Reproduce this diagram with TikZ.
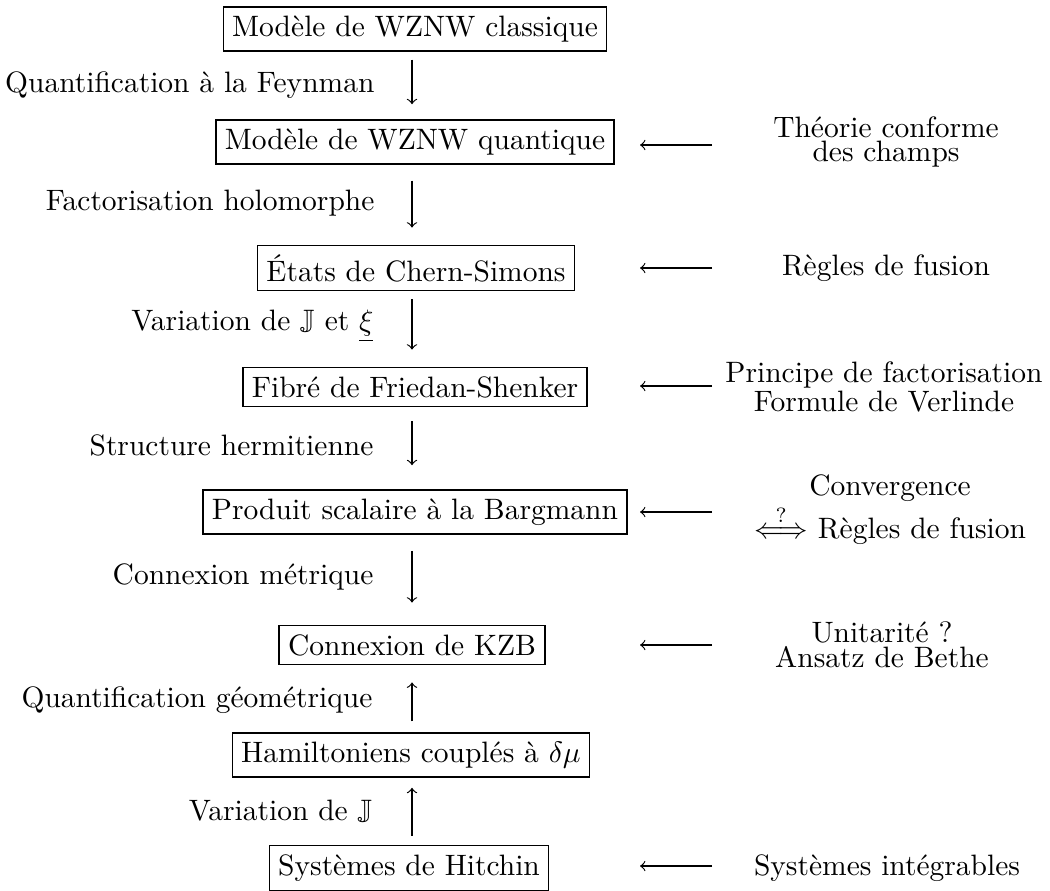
\documentclass[tikz,border=0pt]{standalone}
\usepackage{amsmath,amssymb}
\usepackage{fontspec}
\newcommand{\mystk}[1]{\vbox{\baselineskip=0pt\lineskip=1pt\lineskiplimit=0pt\halign{\hfil##\hfil\cr#1\crcr}}}
\begin{document}
\begin{tikzpicture}[x=0.339pt,y=-0.339pt,
  stepbox/.style={draw,line width=0.5pt,inner sep=3pt},
  lab/.style={anchor=east,inner sep=0pt},
  rlab/.style={inner sep=0pt},
  conn/.style={->,line width=0.4pt}]
\useasboundingbox (0,0) rectangle (1050,890);
% boxes
\node[stepbox] (b1) at (415,29) {Modèle de WZNW classique};
\node[stepbox] (b2) at (415,142) {Modèle de WZNW quantique};
\node[stepbox] (b3) at (416,268) {États de Chern-Simons};
\node[stepbox] (b4) at (415,387) {Fibré de Friedan-Shenker};
\node[stepbox] (b5) at (415,512) {Produit scalaire à la Bargmann};
\node[stepbox] (b6) at (412,645) {Connexion de KZB};
\node[stepbox] (b7) at (411,755) {Hamiltoniens couplés à $\delta\mu$};
\node[stepbox] (b8) at (409,868) {Systèmes de Hitchin};
% left labels
\node[lab] (l1) at (375,85) {Quantification à la Feynman};
\node[lab] (l2) at (375,203) {Factorisation holomorphe};
\node[lab] (l3) at (374,326) {Variation de $\mathbb{J}$ et $\underline{\xi}$};
\node[lab] (l4) at (374,445) {Structure hermitienne};
\node[lab] (l5) at (374,577) {Connexion métrique};
\node[lab] (l6) at (373,700) {Quantification géométrique};
\node[lab] (l7) at (373,813) {Variation de $\mathbb{J}$};
% vertical arrows
\draw[conn,shorten <=2.7pt,shorten >=5.1pt] (b1.south -| 412,0) -- (b2.north -| 412,0);
\draw[conn,shorten <=5.4pt,shorten >=5.8pt] (b2.south -| 412,0) -- (b3.north -| 412,0);
\draw[conn,shorten <=2.7pt,shorten >=5.8pt] (b3.south -| 412,0) -- (b4.north -| 412,0);
\draw[conn,shorten <=4.7pt,shorten >=8.1pt] (b4.south -| 412,0) -- (b5.north -| 412,0);
\draw[conn,shorten <=5.4pt,shorten >=7.5pt] (b5.south -| 412,0) -- (b6.north -| 412,0);
\draw[conn,shorten <=3.7pt,shorten >=5.8pt] (b7.north -| 412,0) -- (b6.south -| 412,0);
\draw[conn,shorten <=3.1pt,shorten >=3.4pt] (b8.north -| 412,0) -- (b7.south -| 412,0);
% right labels
\node[rlab] (r2) at (886,142) {\mystk{Théorie conforme\cr des champs}};
\node[rlab] (r3) at (886,268) {Règles de fusion};
\node[rlab] (r4) at (884,387) {\mystk{Principe de factorisation\cr Formule de Verlinde}};
\node[rlab] (r5) at (890,510) {\mystk{Convergence\cr $\stackrel{?}{\Longleftrightarrow}$ Règles de fusion}};
\node[rlab] (r6) at (882,645) {\mystk{Unitarité ?\cr Ansatz de Bethe}};
\node[rlab] (r8) at (887,868) {Systèmes intégrables};
% horizontal arrows
\foreach \n/\yy in {2/145,3/268,4/386,5/512,6/645,8/866}{
  \coordinate (s\n) at (712,\yy);
  \coordinate (e\n) at (640,\yy);
  \draw[conn] (s\n) -- (e\n);
}
\end{tikzpicture}
\end{document}
